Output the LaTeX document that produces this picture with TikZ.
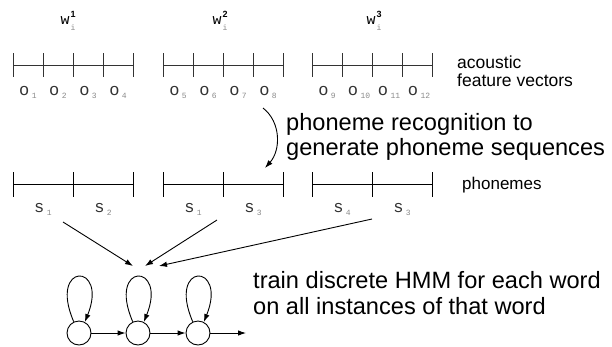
\documentclass[tikz,border=0pt]{standalone}
\usepackage{fontspec}
\setmainfont{Liberation Sans}
\newfontfamily\monof{Liberation Mono}
\usetikzlibrary{arrows.meta}
\definecolor{lbl}{HTML}{333333}
\definecolor{sublbl}{HTML}{8A8A8A}
\newcommand\olab[2]{{\monof\fontsize{17}{17}\selectfont\color{lbl}#1}\hspace{2.5pt}\raisebox{-3pt}{\monof\fontsize{8}{8}\selectfont\color{sublbl}#2}}
\newcommand\wlab[1]{{\monof\fontsize{15}{15}\selectfont\color{black}w}\hspace{1pt}\rlap{\raisebox{7pt}{\fontsize{9}{9}\selectfont\bfseries #1}}\raisebox{-6pt}{\monof\fontsize{8}{8}\selectfont\color{sublbl}i}\hspace{4pt}}
\begin{document}
\begin{tikzpicture}[x=1pt,y=-1pt,
  ruler/.style={line width=0.85pt,draw=black!80},
  arr/.style={line width=0.9pt,-{Latex[length=8pt,width=5.5pt]}},
  state/.style={circle,draw,line width=0.9pt,minimum size=24pt,inner sep=0pt},
  bigtxt/.style={font=\fontsize{23.6}{25.5}\selectfont,align=left,inner sep=0pt},
  midtxt/.style={font=\fontsize{17.5}{18.5}\selectfont,align=left,inner sep=0pt},
  lab/.style={inner sep=0pt}]
\useasboundingbox (0,0) rectangle (612,346);
% word labels
\node[lab] (w1) at (68,21) {\wlab{1}};
\node[lab] (w2) at (220,21) {\wlab{2}};
\node[lab] (w3) at (374,21) {\wlab{3}};
% acoustic rulers
\foreach \s in {13,163,312}{
  \draw[ruler] (\s,65) -- ++(120,0);
  \foreach \k in {0,...,4} \draw[ruler] (\s+30*\k,53) -- (\s+30*\k,77);
}
\node[lab] (o1) at (28,92) {\olab{o}{1}};
\node[lab] (o2) at (58,92) {\olab{o}{2}};
\node[lab] (o3) at (88,92) {\olab{o}{3}};
\node[lab] (o4) at (118,92) {\olab{o}{4}};
\node[lab] (o5) at (178,92) {\olab{o}{5}};
\node[lab] (o6) at (208,92) {\olab{o}{6}};
\node[lab] (o7) at (238,92) {\olab{o}{7}};
\node[lab] (o8) at (268,92) {\olab{o}{8}};
\node[lab] (o9) at (327,92) {\olab{o}{9}};
\node[lab] (o10) at (359,92) {\olab{o}{10}};
\node[lab] (o11) at (389,92) {\olab{o}{11}};
\node[lab] (o12) at (419,92) {\olab{o}{12}};
\node[midtxt,anchor=west] (afv) at (457,71) {acoustic\\feature vectors};
% phoneme rulers
\foreach \s in {13,163,312}{
  \draw[ruler,draw=black] (\s,184) -- ++(120,0);
  \foreach \k in {0,1,2} \draw[ruler,draw=black] (\s+60*\k,172) -- (\s+60*\k,197);
}
\node[lab] (s1a) at (43,209) {\olab{s}{1}};
\node[lab] (s2a) at (103,209) {\olab{s}{2}};
\node[lab] (s1b) at (193,209) {\olab{s}{1}};
\node[lab] (s3b) at (253,209) {\olab{s}{3}};
\node[lab] (s4c) at (342,209) {\olab{s}{4}};
\node[lab] (s3c) at (402,209) {\olab{s}{3}};
\node[font=\fontsize{17}{17}\selectfont,anchor=base west,inner sep=0pt] (phn) at (462,189) {phonemes};
% recognition arrow
\node[bigtxt,anchor=west] (rec) at (286,137) {phoneme recognition to\\generate phoneme sequences};
\coordinate (ra) at (263,108);
\coordinate (rb) at (265,168);
\draw[arr] (ra) .. controls (281,122) and (281,150) .. (rb);
% HMM
\node[state] (q1) at (79,333) {};
\node[state] (q2) at (138,333) {};
\node[state] (q3) at (198,333) {};
\coordinate (qend) at (246,333);
\draw[arr] (q1) -- (q2);
\draw[arr] (q2) -- (q3);
\draw[arr] (q3) -- (qend);
\foreach \q in {q1,q2,q3}
  \draw[arr] (\q.115) .. controls +(-26,-60) and +(24,-60) .. (\q.62);
% arrows to HMM
\coordinate (a1) at (63,222);
\coordinate (a2) at (217,220);
\coordinate (a3) at (372,219);
\coordinate (e1) at (133,266);
\coordinate (e2) at (145,266);
\coordinate (e3) at (159,266);
\draw[arr] (a1) -- (e1);
\draw[arr] (a2) -- (e2);
\draw[arr] (a3) -- (e3);
\node[bigtxt,anchor=west] (train) at (253,293) {train discrete HMM for each word\\on all instances of that word};
\end{tikzpicture}
\end{document}
